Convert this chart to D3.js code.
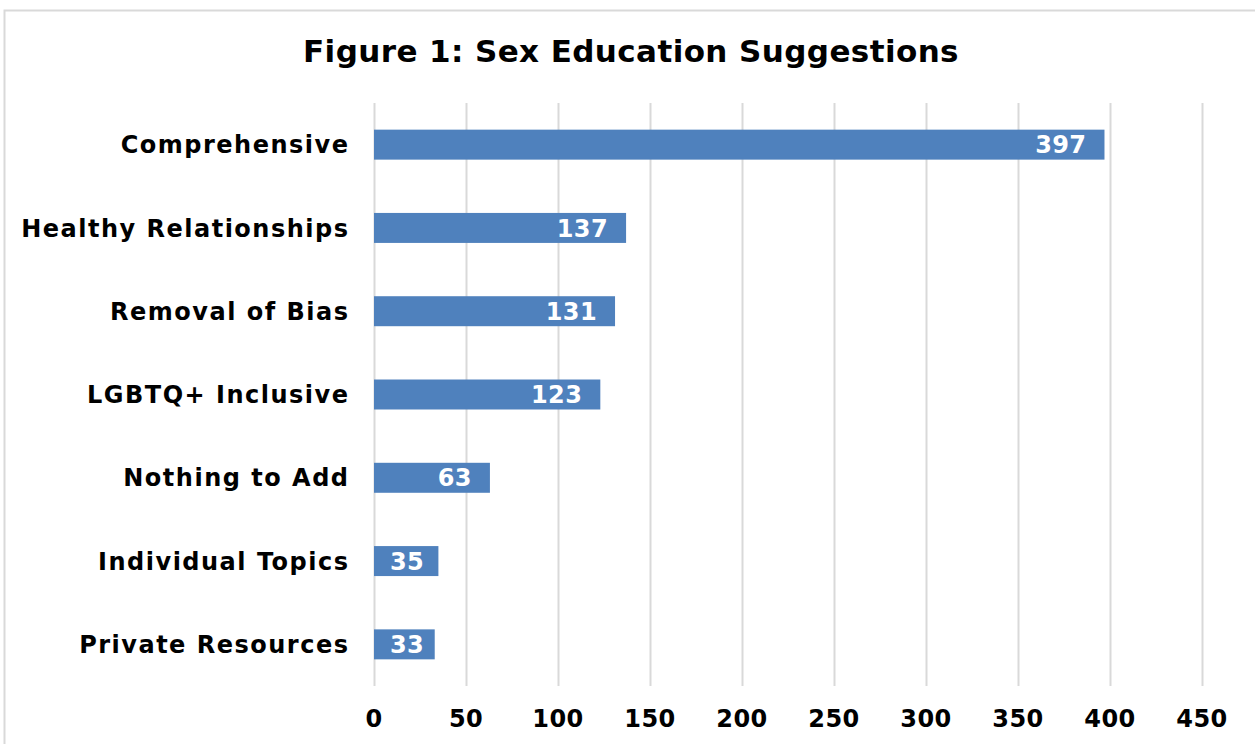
<!DOCTYPE html>
<html>
  <head>
    <meta charset="utf-8">
    <style>
    body { margin: 0; background: #fff; }
    text { font-family: "DejaVu Sans", Verdana, sans-serif; font-weight: bold; }
    .grid line { stroke: #d9d9d9; stroke-width: 2px; }
    .grid .domain { display: none; }
    </style>
  </head>
  <body>
    <script src="https://cdn.jsdelivr.net/npm/d3@7"></script>
    <script>

    var categories = ["Comprehensive", "Healthy Relationships", "Removal of Bias",
                      "LGBTQ+ Inclusive", "Nothing to Add", "Individual Topics", "Private Resources"];
    var counts = [397, 137, 131, 123, 63, 35, 33];
    var xTicks = [0, 50, 100, 150, 200, 250, 300, 350, 400, 450];
    var title = "Figure 1: Sex Education Suggestions";

    var width = 1255, height = 744;
    var margin = {top: 103, right: 53, bottom: 58, left: 374};

    var svg = d3.select("body").append("svg")
        .attr("width", width)
        .attr("height", height);

    // chart frame
    svg.append("rect")
        .attr("x", 4.5).attr("y", 10.5)
        .attr("width", width + 10).attr("height", height + 10)
        .attr("fill", "none")
        .attr("stroke", "#d9d9d9")
        .attr("stroke-width", 2);

    var x = d3.scaleLinear()
        .domain([0, 450])
        .range([margin.left, width - margin.right]);

    var y = d3.scaleBand()
        .domain(categories)
        .range([margin.top, height - margin.bottom])
        .paddingInner(0.64)
        .paddingOuter(0.32);

    svg.append("text")
        .attr("x", 631)
        .attr("y", 62)
        .attr("text-anchor", "middle")
        .style("font-size", "31px")
        .style("letter-spacing", "0.4px")
        .text(title);

    // vertical gridlines
    svg.append("g")
        .attr("class", "grid")
        .attr("transform", "translate(0," + (height - margin.bottom) + ")")
        .call(d3.axisBottom(x).tickValues(xTicks)
            .tickSize(-(height - margin.top - margin.bottom))
            .tickFormat(""));

    var bars = svg.append("g").selectAll("rect")
        .data(counts)
        .enter().append("rect")
          .attr("x", x(0))
          .attr("y", function(d, i) { return y(categories[i]); })
          .attr("width", function(d) { return x(d) - x(0); })
          .attr("height", y.bandwidth())
          .attr("fill", "#4f81bd");

    // value labels, inside end; short bars keep the label off the bar start
    svg.append("g").selectAll("text")
        .data(counts)
        .enter().append("text")
          .attr("y", function(d, i) { return y(categories[i]) + y.bandwidth() / 2; })
          .attr("dy", "0.36em")
          .attr("text-anchor", "end")
          .attr("fill", "#fff")
          .style("font-size", "24px")
          .style("letter-spacing", "0.4px")
          .text(function(d) { return d; })
          .attr("x", function(d) {
            var w = this.getComputedTextLength();
            return Math.max(x(d) - 18, x(0) + 16 + w);
          });

    // category labels
    svg.append("g").selectAll("text")
        .data(categories)
        .enter().append("text")
          .attr("x", 349.5)
          .attr("y", function(d) { return y(d) + y.bandwidth() / 2; })
          .attr("dy", "0.36em")
          .attr("text-anchor", "end")
          .style("font-size", "24px")
          .style("letter-spacing", "1.5px")
          .text(function(d) { return d; });

    // x tick labels
    svg.append("g").selectAll("text")
        .data(xTicks)
        .enter().append("text")
          .attr("x", function(d) { return x(d); })
          .attr("y", 727)
          .attr("text-anchor", "middle")
          .style("font-size", "24px")
          .style("letter-spacing", "0.4px")
          .text(function(d) { return d; });

    </script>
  </body>
</html>
